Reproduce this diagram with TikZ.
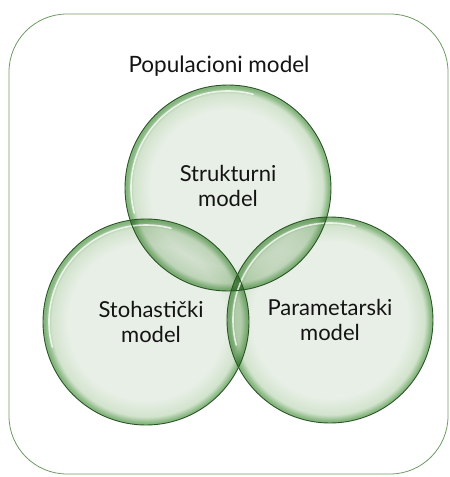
\documentclass[tikz,border=0pt]{standalone}
\usepackage{fontspec}
\setmainfont{Lato}
\definecolor{rimgreen}{HTML}{2A5425}
\definecolor{boxgreen}{HTML}{6E9B64}
\definecolor{glasslight}{HTML}{E8EFE6}
\definecolor{glassmid}{HTML}{D2E3CD}
\definecolor{glassedge}{HTML}{86B67F}
% visible circle of a TikZ shading has radius 25bp
\pgfdeclareradialshading{glass}{\pgfpoint{0bp}{0bp}}{color(0bp)=(glasslight); color(19bp)=(glasslight); color(23bp)=(glassmid); color(24.5bp)=(glassedge); color(25bp)=(glassedge); color(50bp)=(glassedge)}
\begin{document}
\begin{tikzpicture}[x=1pt,y=-1pt,
  vennlabel/.style={align=center,font=\fontsize{22}{25}\selectfont,text=black!92},
  rim/.style={draw=rimgreen,line width=0.9pt},
  gloss/.style={draw=white,opacity=0.75,line width=1.6pt,line cap=round}]
  \useasboundingbox (0,0) rectangle (450,477);
  \draw[boxgreen,line width=0.8pt,rounded corners=58pt] (9,14) rectangle (448,474);
  \node[font=\fontsize{22.5}{26}\selectfont,text=black!92] (pop) at (219,66) {Populacioni model};
  \foreach \c/\x/\y in {struk/228/188,stoh/146/322,param/330/320} \coordinate (\c) at (\x,\y);
  \foreach \c in {struk,stoh,param} \shade[shading=glass,blend mode=multiply] (\c) circle (103);
  \foreach \c in {struk,stoh,param} \draw[gloss] (\c) ++(165:97) arc[start angle=165,end angle=285,radius=97];
  \foreach \c in {struk,stoh,param} \draw[rim] (\c) circle (103);
  \node[vennlabel] (lstruk) at ([yshift=2pt]struk) {Strukturni\\model};
  \node[vennlabel] (lstoh) at ([xshift=5pt]stoh) {Stohastički\\model};
  \node[vennlabel] (lparam) at (param) {Parametarski\\model};
\end{tikzpicture}
\end{document}
